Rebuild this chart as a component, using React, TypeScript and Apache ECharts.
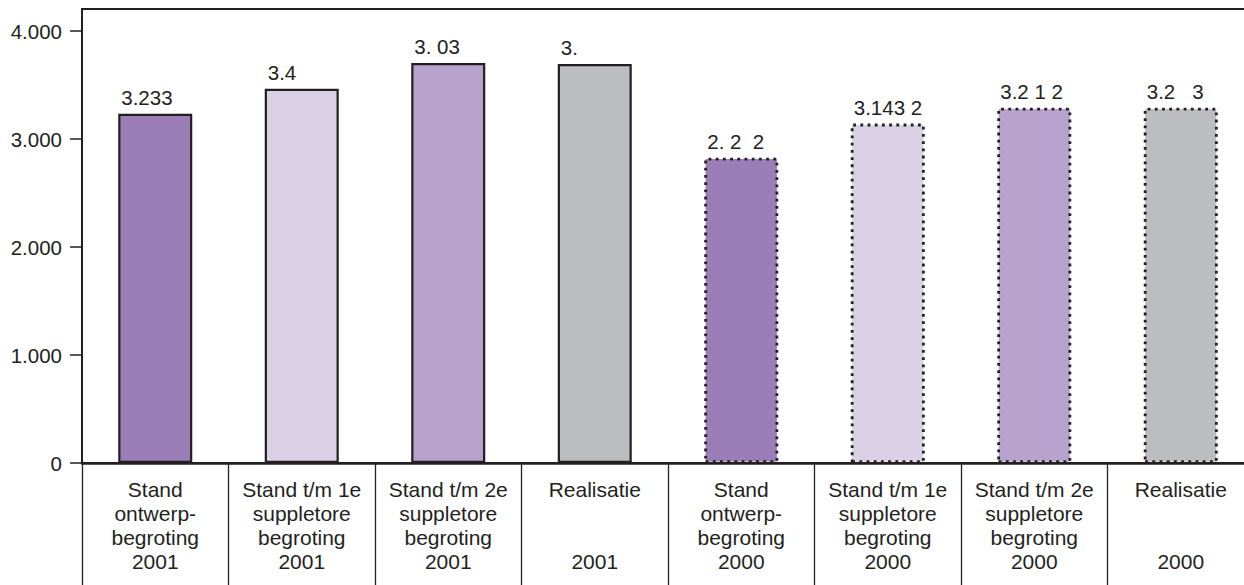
import React, { useEffect, useRef } from "react";
import * as echarts from "echarts";

const categories = [
  "Stand\nontwerp-\nbegroting\n2001",
  "Stand t/m 1e\nsuppletore\nbegroting\n2001",
  "Stand t/m 2e\nsuppletore\nbegroting\n2001",
  "Realisatie\n\n\n2001",
  "Stand\nontwerp-\nbegroting\n2000",
  "Stand t/m 1e\nsuppletore\nbegroting\n2000",
  "Stand t/m 2e\nsuppletore\nbegroting\n2000",
  "Realisatie\n\n\n2000",
];
const values = [3233, 3466, 3703, 3694, 2827, 3143, 3290, 3290];
const valueLabels = ["3.233", "3.4", "3. 03", "3.", "2. 2  2", "3.143 2", "3.2 1 2", "3.2   3"];
const barColors = ["#9b7db8", "#dad1e6", "#b8a3cd", "#bcbdc0", "#9b7db8", "#dad1e6", "#b8a3cd", "#bcbdc0"];
const borderStyles = ["solid", "solid", "solid", "solid", "dotted", "dotted", "dotted", "dotted"];
const yTicks = [0, 1000, 2000, 3000, 4000];

const FONT = "'Liberation Sans', Arial, Helvetica, sans-serif";
const INK = "#231f20";

export default function App() {
  const ref = useRef<HTMLDivElement>(null);
  useEffect(() => {
    if (!ref.current) return;
    document.body.style.overflow = "hidden";
    const chart = echarts.init(ref.current, undefined, { renderer: "svg" });
    chart.setOption({
      animation: false,
      textStyle: { fontFamily: FONT },
      grid: {
        left: 82,
        right: 0,
        top: 9,
        bottom: 122,
        show: true,
        borderColor: INK,
        borderWidth: 2,
        backgroundColor: "transparent",
      },
      xAxis: {
        type: "category",
        data: categories,
        axisLine: { show: true, lineStyle: { color: INK, width: 2.5 } },
        axisTick: {
          show: true,
          interval: 0,
          length: 125,
          lineStyle: { color: INK, width: 1.3 },
        },
        axisLabel: {
          interval: 0,
          margin: 14,
          color: INK,
          fontSize: 21,
          lineHeight: 24,
          fontFamily: FONT,
          align: "center",
        },
        splitLine: { show: false },
      },
      yAxis: {
        type: "value",
        min: 0,
        max: 4204,
        axisLine: { show: true, lineStyle: { color: INK, width: 2 } },
        axisTick: {
          show: true,
          length: 12,
          customValues: yTicks,
          lineStyle: { color: INK, width: 1.5 },
        },
        axisLabel: {
          customValues: yTicks,
          margin: 20,
          color: INK,
          fontSize: 20.5,
          fontFamily: FONT,
          formatter: (v: number) => v.toLocaleString("de-DE"),
        },
        splitLine: { show: false },
      },
      series: [
        {
          type: "bar",
          barWidth: 74,
          data: values.map((v, i) => ({
            value: v,
            itemStyle: {
              color: barColors[i],
              borderColor: INK,
              borderWidth: borderStyles[i] === "solid" ? 2.2 : 2.8,
              borderType: borderStyles[i] === "solid" ? "solid" : [2.8, 4.4],
            },
            label: {
              show: true,
              formatter: valueLabels[i],
              position: [3, -6],
              align: "left",
              verticalAlign: "bottom",
              color: INK,
              fontSize: 20.5,
              fontFamily: FONT,
            },
          })),
        },
      ],
    });
    return () => chart.dispose();
  }, []);
  return (
    <div
      ref={ref}
      style={{ position: "fixed", left: 0, top: 0, width: 1254, height: 585, background: "#fff" }}
    />
  );
}
